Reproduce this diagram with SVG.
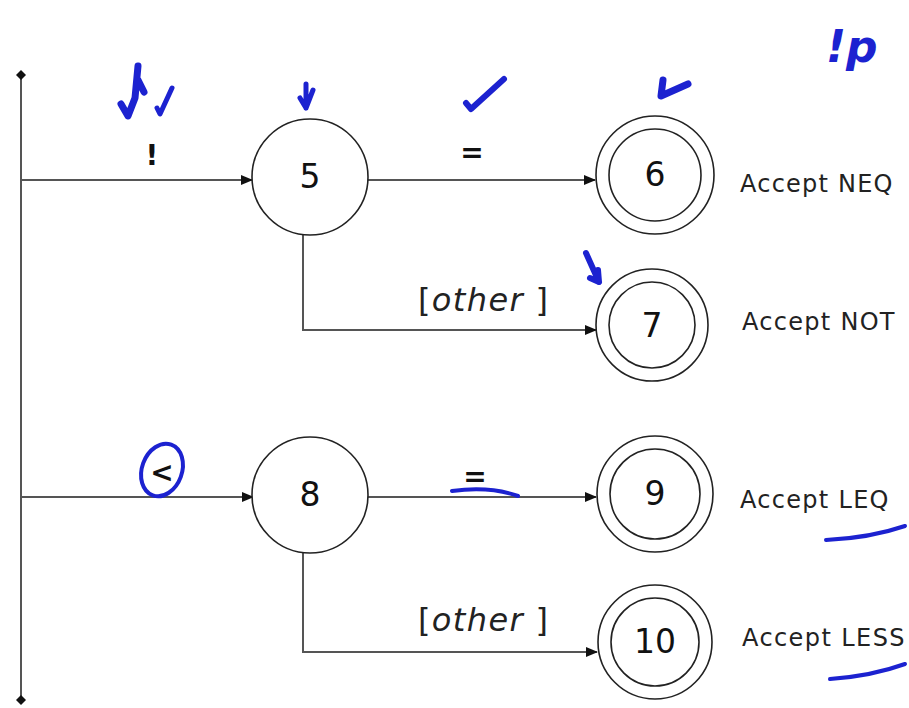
<svg xmlns="http://www.w3.org/2000/svg" width="909" height="708" viewBox="0 0 909 708">
<style>
.st{fill:#fff;stroke:#222;stroke-width:1.6}
.num{font-family:"DejaVu Sans",Verdana,sans-serif;font-size:33px;fill:#111;text-anchor:middle}
.lbl{font-family:"DejaVu Sans",Verdana,sans-serif;font-size:24px;fill:#222;letter-spacing:-0.5px}
.sym{font-family:"DejaVu Sans",Verdana,sans-serif;font-size:28px;fill:#111;font-weight:bold;text-anchor:middle}
.oth{font-family:"DejaVu Sans",Verdana,sans-serif;font-size:32px;fill:#222}
.edge{fill:none;stroke:#555;stroke-width:2}
.ink{fill:none;stroke:#1c22d0;stroke-linecap:round;stroke-linejoin:round}
</style>
<defs>
<marker id="ah" markerWidth="12" markerHeight="10" refX="11" refY="5" orient="auto" markerUnits="userSpaceOnUse">
<path d="M0,0 L12,5 L0,10 Z" fill="#111"/>
</marker>
<marker id="dot" markerWidth="10" markerHeight="10" refX="5" refY="5" markerUnits="userSpaceOnUse">
<path d="M5,0 L10,5 L5,10 L0,5 Z" fill="#111"/>
</marker>
</defs>
<rect width="909" height="708" fill="#fff"/>
<g id="connectors">
<path class="edge" d="M21,75 V700" marker-start="url(#dot)" marker-end="url(#dot)"/>
<path class="edge" d="M21,180 H252" marker-end="url(#ah)"/>
<path class="edge" d="M368,180 H595" marker-end="url(#ah)"/>
<path class="edge" d="M303,235 V330 H596" marker-end="url(#ah)"/>
<path class="edge" d="M21,497 H253" marker-end="url(#ah)"/>
<path class="edge" d="M368,497 H596" marker-end="url(#ah)"/>
<path class="edge" d="M303,552 V652 H597" marker-end="url(#ah)"/>
<text class="sym" x="152" y="165">!</text>
<text class="sym" x="472" y="162">=</text>
<text class="oth" x="418" y="311" textLength="130">[<tspan font-style="italic">other</tspan> ]</text>
<text class="sym" x="162" y="482" font-weight="normal">&lt;</text>
<text class="sym" x="475" y="486">=</text>
<text class="oth" x="418" y="631" textLength="130">[<tspan font-style="italic">other</tspan> ]</text>
</g>
<g id="n5"><circle class="st" cx="310" cy="177" r="58"/><text class="num" x="310" y="188">5</text></g>
<g id="n6"><circle class="st" cx="655" cy="175" r="59"/><circle class="st" cx="655" cy="175" r="46"/><text class="num" x="655" y="186">6</text><text class="lbl" x="740" y="192" textLength="152">Accept NEQ</text></g>
<g id="n7"><circle class="st" cx="652" cy="325" r="56"/><circle class="st" cx="652" cy="325" r="43"/><text class="num" x="652" y="337">7</text><text class="lbl" x="742" y="330" textLength="152">Accept NOT</text></g>
<g id="n8"><circle class="st" cx="310" cy="495" r="58"/><text class="num" x="310" y="506">8</text></g>
<g id="n9"><circle class="st" cx="655" cy="494" r="58"/><circle class="st" cx="655" cy="494" r="45"/><text class="num" x="655" y="505">9</text><text class="lbl" x="740" y="508" textLength="148">Accept LEQ</text></g>
<g id="n10"><circle class="st" cx="655" cy="642" r="57"/><circle class="st" cx="655" cy="642" r="44"/><text class="num" x="655" y="653">10</text><text class="lbl" x="742" y="646" textLength="162">Accept LESS</text></g>
<g id="annotations">
<path class="ink" stroke-width="7" d="M138,66 L135,98 L128,116 L121,104 M138,80 L144,92"/>
<path class="ink" stroke-width="5" d="M157,108 L160,114 L172,88"/>
<path class="ink" stroke-width="5" d="M306,84 L306,108 M300,98 L306,108 L313,90"/>
<path class="ink" stroke-width="6" d="M466,103 L471,109 L504,79"/>
<path class="ink" stroke-width="7" d="M663,80 L661,96 L688,84"/>
<path class="ink" stroke-width="6" d="M586,253 L599,282 M590,278 L599,282 L598,270"/>
<text x="826" y="62" font-family="DejaVu Sans,sans-serif" font-size="44" font-weight="bold" font-style="italic" fill="#1c22d0">!p</text>
<ellipse class="ink" stroke-width="4" cx="162" cy="470" rx="20" ry="27" transform="rotate(20 162 470)"/>
<path class="ink" stroke-width="4" d="M452,491 Q490,486 518,496"/>
<path class="ink" stroke-width="4" d="M826,540 Q870,538 905,526"/>
<path class="ink" stroke-width="4" d="M830,679 Q872,676 905,664"/>
</g>
</svg>
